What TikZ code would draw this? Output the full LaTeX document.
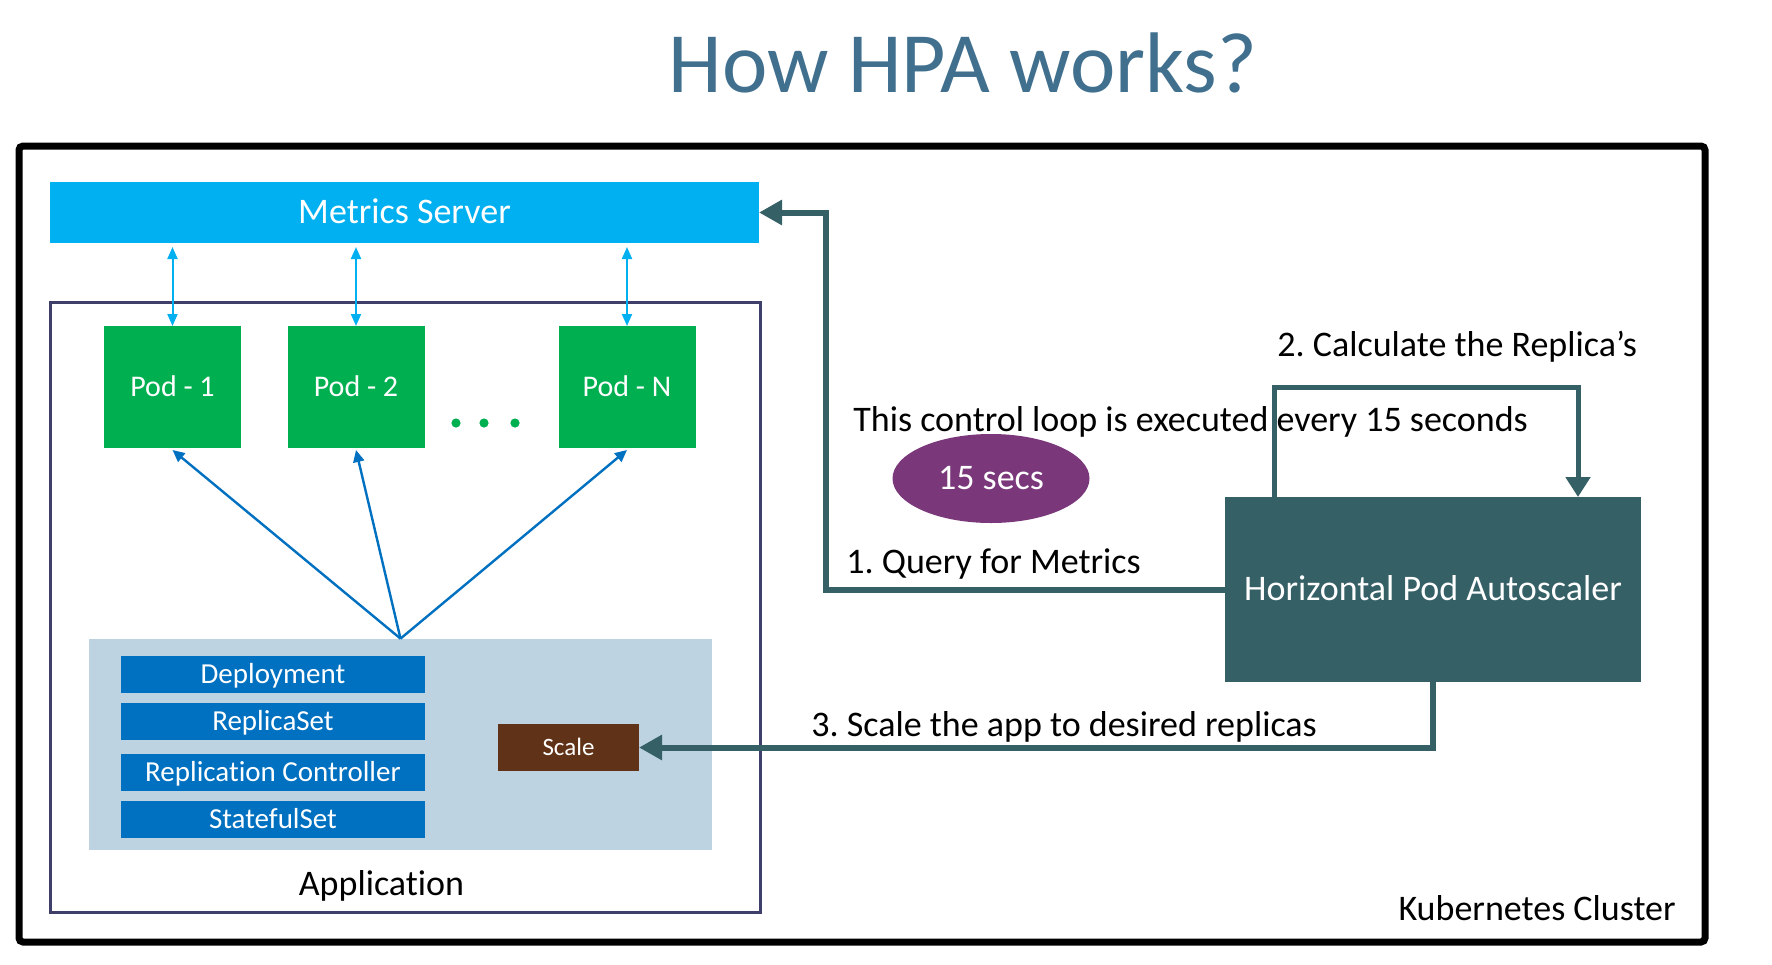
\documentclass[tikz,border=0pt]{standalone}
\usepackage{fontspec}
\setmainfont{Carlito}[Ligatures=NoCommon]
\usetikzlibrary{arrows.meta,shapes.geometric}
\definecolor{msblue}{HTML}{00B0F0}
\definecolor{podgreen}{HTML}{00B050}
\definecolor{darkblue}{HTML}{0070C0}
\definecolor{lightbg}{HTML}{BDD3E1}
\definecolor{scalebrown}{HTML}{603318}
\definecolor{hpateal}{HTML}{356066}
\definecolor{looppurple}{HTML}{7A387A}
\definecolor{appnavy}{HTML}{3F3F6A}
\definecolor{titleblue}{HTML}{41708F}
\begin{document}
\frenchspacing
\begin{tikzpicture}[x=0.5pt,y=-0.5pt,
  f18/.style={font=\fontsize{18}{21}\selectfont},
  capbox/.style={inner sep=0pt, outer sep=0pt, text depth=0pt, align=center},
  msbox/.style={capbox, fill=msblue, text=white, f18, text height=11.4pt, minimum width=354.5pt, minimum height=30.5pt},
  podbox/.style={capbox, fill=podgreen, text=white, font=\fontsize{15}{18}\selectfont, text height=9.5pt, minimum width=68.5pt, minimum height=61pt},
  ctrlbox/.style={capbox, fill=darkblue, text=white, font=\fontsize{14.5}{17}\selectfont, text height=9.2pt, minimum width=152pt, minimum height=18.5pt},
  scalebox/.style={capbox, fill=scalebrown, text=white, font=\fontsize{12.5}{15}\selectfont, text height=7.9pt, minimum width=70.5pt, minimum height=23.5pt},
  hpabox/.style={capbox, fill=hpateal, text=white, f18, text height=11.4pt, minimum width=208pt, minimum height=92.5pt},
  secsnode/.style={capbox, ellipse, fill=looppurple, text=white, f18, text height=11.4pt, minimum width=98.5pt, minimum height=44.5pt},
  lbl/.style={f18, inner sep=0pt, text=black},
  msarrow/.style={draw=msblue, line width=1pt, {Triangle[width=5pt,length=6pt]}-{Triangle[width=5pt,length=6pt]}},
  fanarrow/.style={draw=darkblue, line width=1.2pt, -{Triangle[width=5.5pt,length=6pt]}},
  tealarrow/.style={draw=hpateal, line width=3pt, -{Triangle[width=12pt,length=11.5pt]}},
  looparrow/.style={draw=hpateal, line width=2.5pt, -{Triangle[width=12pt,length=10pt]}},
]
\useasboundingbox (0,0) rectangle (1772,964);

% outer frame
\node[draw=black, line width=3.5pt, rounded corners=2pt, minimum width=843pt, minimum height=398pt, inner sep=0pt] (cluster) at (862,544) {};

% title
\node[font=\fontsize{43}{49}\selectfont, text=titleblue, anchor=base, inner sep=0pt] (title) at (963,92) {How HPA works?};

% application box
\node[draw=appnavy, line width=1.5pt, minimum width=355pt, minimum height=305pt, inner sep=0pt] (app) at (405,607) {};
\node[fill=lightbg, minimum width=311.5pt, minimum height=105.5pt, inner sep=0pt] (light) at (400.5,744.5) {};

% metrics server
\node[msbox] (ms) at (404.5,212.5) {Metrics Server};

% pods
\node[podbox] (p1) at (172.5,387) {Pod - 1};
\node[podbox] (p2) at (356,387) {Pod - 2};
\node[podbox] (pn) at (627,387) {Pod - N};
\foreach \dx in {456,484,515} \fill[podgreen] (\dx,423) circle (2.3pt);

% controllers
\node[ctrlbox] (dep) at (273,674.5) {Deployment};
\node[ctrlbox] (rs) at (273,721.5) {ReplicaSet};
\node[ctrlbox] (rc) at (273,772.5) {Replication Controller};
\node[ctrlbox] (sts) at (273,819.5) {StatefulSet};
\node[scalebox] (scale) at (568.5,747.5) {Scale};

\node[lbl, anchor=base] (applbl) at (381.5,895) {Application};

% HPA
\node[hpabox] (hpa) at (1433,589.5) {Horizontal Pod Autoscaler};
\node[secsnode] (secs) at (991,478.5) {15 secs};

% metrics <-> pods
\draw[msarrow] ([yshift=-2pt]ms.south -| p1) -- (p1.north);
\draw[msarrow] ([yshift=-2pt]ms.south -| p2) -- (p2.north);
\draw[msarrow] ([yshift=-2pt]ms.south -| pn) -- (pn.north);

% fan
\draw[fanarrow] (light.north) -- ([yshift=-1pt]p1.south);
\draw[fanarrow] (light.north) -- ([yshift=-1pt]p2.south);
\draw[fanarrow] (light.north) -- ([yshift=-1pt]pn.south);

% 1. query
\coordinate (qc) at (826,212.5);
\draw[tealarrow] (hpa.west) -| (qc) -- (ms.east);

% 2. loop
\coordinate (l1) at (1274,387);
\coordinate (l2) at (1578,387);
\draw[looparrow] (hpa.north -| l1) -- (l1) -- (l2) -- (hpa.north -| l2);

% 3. scale
\draw[tealarrow] (hpa.south) |- (scale.east);

% labels
\node[lbl, anchor=base west] (calclbl) at (1277,356) {2. Calculate the Replica’s};
\node[lbl, anchor=base west] (looplbl) at (853,431) {This control loop is executed every 15 seconds};
\node[lbl, anchor=base west] (querylbl) at (846,573) {1. Query for Metrics};
\node[lbl, anchor=base west] (scalelbl) at (811,736) {3. Scale the app to desired replicas};
\node[lbl, anchor=base east] (k8slbl) at (1676,920) {Kubernetes Cluster};
\end{tikzpicture}
\end{document}
